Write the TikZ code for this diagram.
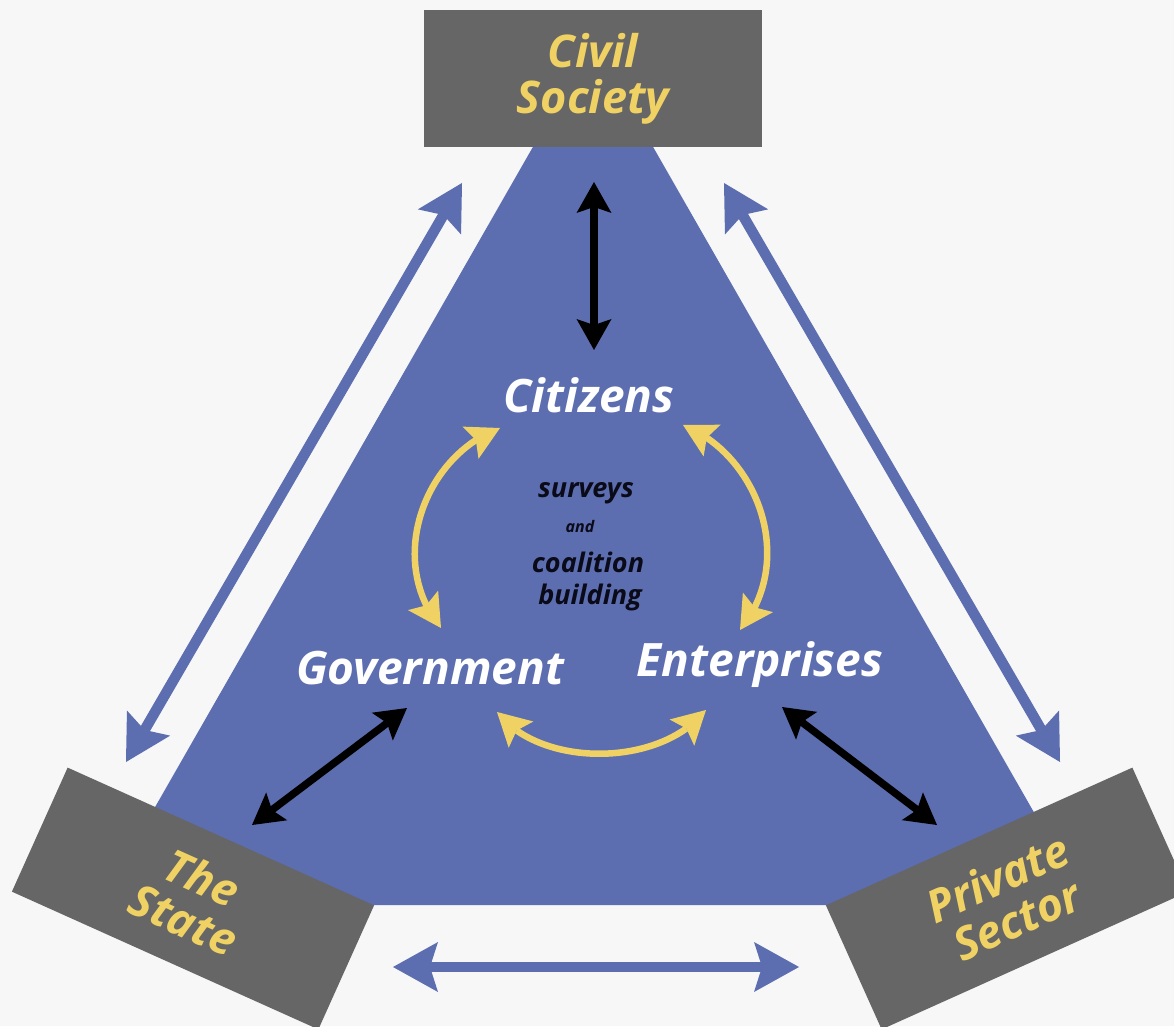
\documentclass[tikz,border=0pt]{standalone}
\usepackage{fontspec}
\setmainfont{Open Sans}
\usetikzlibrary{arrows.meta,bending}
\definecolor{bg}{HTML}{F7F7F7}
\definecolor{triblue}{HTML}{5C6EB0}
\definecolor{boxgray}{HTML}{666666}
\definecolor{gold}{HTML}{F0D264}
\definecolor{ink}{HTML}{0A0A18}
\begin{document}
\begin{tikzpicture}[x=1pt,y=1pt,
  sectorbox/.style={fill=boxgray, minimum width=336pt, minimum height=136pt, inner sep=0pt,
    text=gold, align=center, font=\fontsize{45}{46}\selectfont\bfseries\itshape},
  actor/.style={text=white, inner sep=2pt, font=\fontsize{46}{50}\selectfont\bfseries\itshape},
  midtext/.style={text=ink, inner sep=1pt, font=\fontsize{27}{30}\selectfont\bfseries\itshape},
  bluearrow/.style={draw=triblue, line width=10.5pt,
    {Stealth[length=45pt,width=50pt,inset=8pt,line width=0pt]}-{Stealth[length=45pt,width=50pt,inset=8pt,line width=0pt]}},
  blackarrow/.style={draw=black, line width=7.5pt,
    {Stealth[length=31pt,width=35pt,inset=6pt,line width=0pt]}-{Stealth[length=31pt,width=35pt,inset=6pt,line width=0pt]}},
  goldarrow/.style={draw=gold, line width=6.5pt,
    {Stealth[length=33pt,width=36pt,inset=6pt,line width=0pt]}-{Stealth[length=33pt,width=36pt,inset=6pt,line width=0pt]}}
]
\useasboundingbox (0,0) rectangle (1174,1026);
\clip (0,0) rectangle (1174,1026);
\fill[bg] (0,0) rectangle (1174,1026);

% triangle
\fill[triblue] (99,121) -- (1087,121) -- (593,984) -- cycle;

% sector boxes
\node[sectorbox, minimum width=338pt, minimum height=137pt] (civil) at (593,947.5) {Civil\\Society};
\node[sectorbox, rotate=-24.2] (state) at (193,127.5) {The\\State};
\node[sectorbox, rotate=24.2] (private) at (1007,127.5) {Private\\Sector};

% actors
\node[actor] (citizens) at (589,631) {Citizens};
\node[actor] (government) at (430,358) {Government};
\node[actor] (enterprises) at (760,361) {Enterprises};
\node[midtext] (surveys) at (586,533) {surveys};
\node[midtext, font=\fontsize{16}{18}\selectfont\bfseries\itshape] (and) at (580,499) {and};
\node[midtext] (coalition) at (588,464) {coalition};
\node[midtext] (building) at (590,429) {building};

% connector end points
\coordinate (lt) at (462,843);
\coordinate (lb) at (126,264);
\coordinate (rt) at (724,843);
\coordinate (rb) at (1060,264);
\coordinate (bl) at (393,59);
\coordinate (br) at (799,59);
\coordinate (vt) at (594,844);
\coordinate (vb) at (594,676);
\coordinate (gt) at (407,318);
\coordinate (gb) at (252,201);
\coordinate (et) at (782,319);
\coordinate (eb) at (937,201);
\coordinate (c1) at (500,598);
\coordinate (g1) at (441,398);
\coordinate (c2) at (683,601);
\coordinate (e2) at (740,396);
\coordinate (g3) at (497,314);
\coordinate (e3) at (706,316);

% blue arrows between sectors
\draw[bluearrow] (lb) -- (lt);
\draw[bluearrow] (rt) -- (rb);
\draw[bluearrow] (bl) -- (br);

% black arrows
\draw[blackarrow] (vt) -- (vb);
\draw[blackarrow] (gt) -- (gb);
\draw[blackarrow] (et) -- (eb);

% gold arcs
\draw[goldarrow] (c1) .. controls (425,571) and (385,466) .. (g1);
\draw[goldarrow] (c2) .. controls (758,571) and (797,466) .. (e2);
\draw[goldarrow] (g3) .. controls (540,258) and (660,258) .. (e3);
\end{tikzpicture}
\end{document}
